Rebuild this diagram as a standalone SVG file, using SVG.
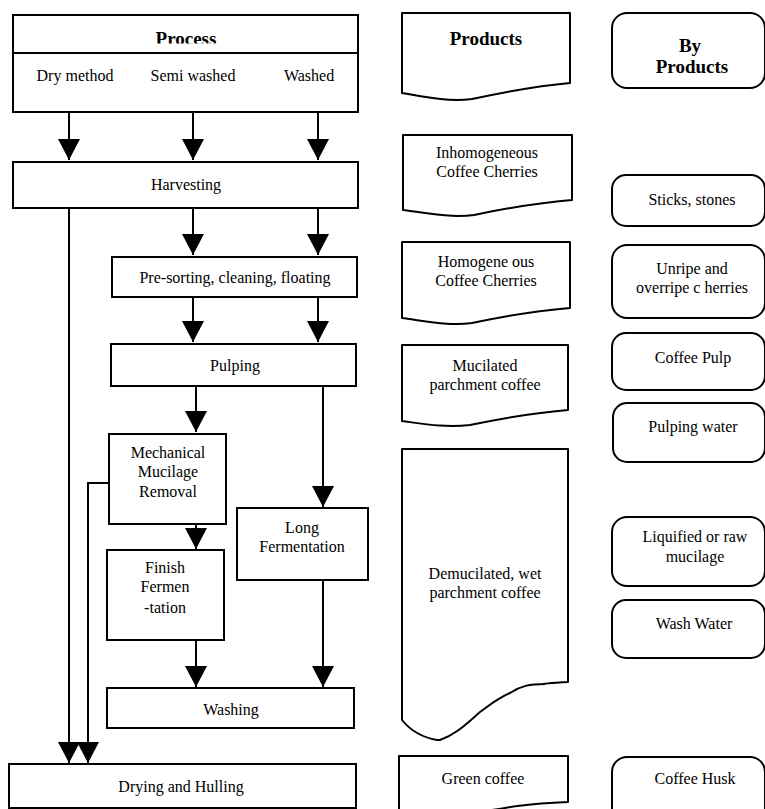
<svg xmlns="http://www.w3.org/2000/svg" width="765" height="809" viewBox="0 0 765 809">
<style>
.box{fill:#fff;stroke:#000;stroke-width:2}
.doc{fill:#fff;stroke:#000;stroke-width:2;stroke-linejoin:round}
.t{font-family:"Liberation Serif","Times New Roman",serif;font-size:16px;fill:#000;text-anchor:middle}
.b{font-family:"Liberation Serif","Times New Roman",serif;font-size:19px;font-weight:bold;fill:#000;text-anchor:middle}
.ln{fill:none;stroke:#000;stroke-width:2}
.ar{fill:none;stroke:#000;stroke-width:2;marker-end:url(#ah)}
</style>
<defs>
<marker id="ah" markerUnits="userSpaceOnUse" markerWidth="22" markerHeight="22" refX="20" refY="10.5" orient="auto" viewBox="0 0 21 21">
<path d="M0,0 L20,10.5 L0,21 Z" fill="#000"/>
</marker>
<clipPath id="pc"><rect x="13" y="15" width="345" height="28.5"/></clipPath>
</defs>
<rect width="765" height="809" fill="#fff"/>

<g id="process">
<rect class="box" x="13" y="15" width="345" height="97"/>
<line class="ln" x1="13" y1="53" x2="358" y2="53"/>
<text class="b" x="186" y="45" clip-path="url(#pc)">Process</text>
<text class="t" x="75" y="81">Dry method</text>
<text class="t" x="193" y="81">Semi washed</text>
<text class="t" x="309" y="81">Washed</text>
</g>

<g id="harvesting">
<rect class="box" x="13" y="162" width="345" height="46"/>
<text class="t" x="186" y="190">Harvesting</text>
</g>

<g id="presorting">
<rect class="box" x="112" y="257" width="245" height="40"/>
<text class="t" x="235" y="283">Pre-sorting, cleaning, floating</text>
</g>

<g id="pulping">
<rect class="box" x="111" y="344" width="245" height="42"/>
<text class="t" x="235" y="371">Pulping</text>
</g>

<g id="mechanical">
<rect class="box" x="109" y="434" width="117" height="90"/>
<text class="t" x="168" y="458">Mechanical</text>
<text class="t" x="168" y="477">Mucilage</text>
<text class="t" x="168" y="497">Removal</text>
</g>

<g id="longferm">
<rect class="box" x="237" y="508" width="131" height="72"/>
<text class="t" x="302" y="533">Long</text>
<text class="t" x="302" y="552">Fermentation</text>
</g>

<g id="finishferm">
<rect class="box" x="107" y="550" width="117" height="90"/>
<text class="t" x="165" y="573">Finish</text>
<text class="t" x="165" y="592">Fermen</text>
<text class="t" x="165" y="613">-tation</text>
</g>

<g id="washing">
<rect class="box" x="107" y="688" width="247" height="40"/>
<text class="t" x="231" y="715">Washing</text>
</g>

<g id="drying">
<rect class="box" x="9" y="764" width="347" height="44"/>
<text class="t" x="181" y="792">Drying and Hulling</text>
</g>

<g id="connectors">
<line class="ar" x1="69" y1="112" x2="69" y2="160"/>
<line class="ar" x1="193" y1="112" x2="193" y2="160"/>
<line class="ar" x1="318" y1="112" x2="318" y2="160"/>
<line class="ar" x1="193" y1="208" x2="193" y2="255"/>
<line class="ar" x1="318" y1="208" x2="318" y2="255"/>
<line class="ar" x1="193" y1="297" x2="193" y2="342"/>
<line class="ar" x1="318" y1="297" x2="318" y2="342"/>
<line class="ar" x1="196" y1="386" x2="196" y2="432"/>
<line class="ar" x1="323" y1="386" x2="323" y2="507"/>
<line class="ar" x1="196" y1="524" x2="196" y2="549"/>
<line class="ar" x1="196" y1="640" x2="196" y2="687"/>
<line class="ar" x1="323" y1="580" x2="323" y2="687"/>
<line class="ar" x1="69" y1="208" x2="69" y2="763"/>
<path class="ar" d="M109,483 H88 V763"/>
</g>

<g id="products-header">
<path class="doc" d="M402,13 H570 V83 C535,86 505,92 472,99 C448,102 425,97 402,93 Z"/>
<text class="b" x="486" y="45">Products</text>
</g>

<g id="byproducts-header">
<rect class="box" x="612" y="13" width="153" height="75" rx="15"/>
<text class="b" x="690" y="52">By</text>
<text class="b" x="692" y="73">Products</text>
</g>

<g id="inhomogeneous">
<path class="doc" d="M403,135 H572 V200 C537,203 507,208 474,215 C450,218 426,213 403,210 Z"/>
<text class="t" x="487" y="158">Inhomogeneous</text>
<text class="t" x="487" y="177">Coffee Cherries</text>
</g>

<g id="sticks">
<rect class="box" x="612" y="175" width="153" height="51" rx="14"/>
<text class="t" x="692" y="205">Sticks, stones</text>
</g>

<g id="homogeneous">
<path class="doc" d="M402,242 H570 V308 C535,311 505,316 472,323 C448,326 425,321 402,318 Z"/>
<text class="t" x="486" y="267">Homogene ous</text>
<text class="t" x="486" y="286">Coffee Cherries</text>
</g>

<g id="unripe">
<rect class="box" x="612" y="245" width="153" height="73" rx="15"/>
<text class="t" x="692" y="274">Unripe and</text>
<text class="t" x="692" y="293">overripe c herries</text>
</g>

<g id="mucilated">
<path class="doc" d="M402,345 H568 V410 C533,413 503,418 470,425 C446,428 424,424 402,421 Z"/>
<text class="t" x="485" y="371">Mucilated</text>
<text class="t" x="485" y="390">parchment coffee</text>
</g>

<g id="coffeepulp">
<rect class="box" x="612" y="333" width="153" height="57" rx="14"/>
<text class="t" x="693" y="363">Coffee Pulp</text>
</g>

<g id="pulpingwater">
<rect class="box" x="613" y="403" width="152" height="59" rx="14"/>
<text class="t" x="693" y="432">Pulping water</text>
</g>

<g id="demucilated">
<path class="doc" d="M402,449 H568 V682 C550,683 540,684 545,684 L545,684 C530,684 520,686 510,693 C495,700 490,705 480,712 C465,725 455,735 440,740 L437,740 C420,737 410,730 402,720 Z"/>
<text class="t" x="485" y="579">Demucilated, wet</text>
<text class="t" x="485" y="598">parchment coffee</text>
</g>

<g id="liquified">
<rect class="box" x="612" y="517" width="153" height="69" rx="15"/>
<text class="t" x="695" y="542">Liquified or raw</text>
<text class="t" x="695" y="562">mucilage</text>
</g>

<g id="washwater">
<rect class="box" x="612" y="600" width="153" height="58" rx="14"/>
<text class="t" x="694" y="629">Wash Water</text>
</g>

<g id="greencoffee">
<path class="doc" d="M399,756 H568 V802 C545,803 525,804 505,808 C490,811 470,812 450,814 L399,814 Z"/>
<text class="t" x="483" y="784">Green coffee</text>
</g>

<g id="coffeehusk">
<rect class="box" x="612" y="757" width="153" height="70" rx="15"/>
<text class="t" x="695" y="784">Coffee Husk</text>
</g>
</svg>
